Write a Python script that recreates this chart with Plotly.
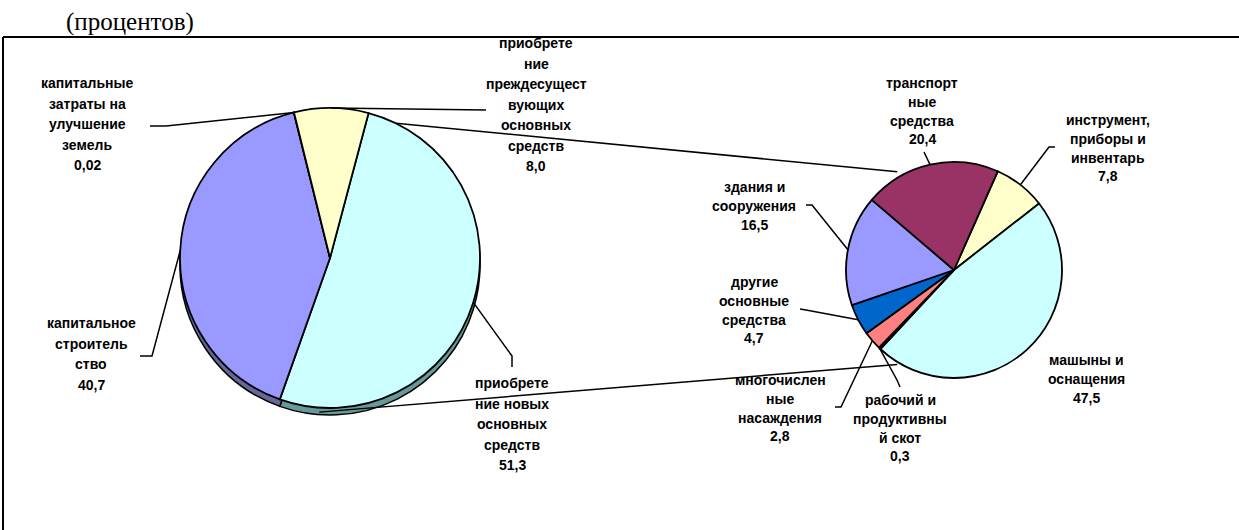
import math
import plotly.graph_objects as go

W, H = 1239, 530

# ---------------- data ----------------
main_labels = ["приобретение новых основных средств",
               "капитальное строительство",
               "капитальные затраты на улучшение земель",
               "приобретение преждесуществующих основных средств"]
main_values = [51.3, 40.7, 0.02, 8.0]
main_label_lines = [
    ["приобрете", "ние новых", "основных", "средств"],
    ["капитальное", "строитель", "ство"],
    ["капитальные", "затраты на", "улучшение", "земель"],
    ["приобрете", "ние", "преждесущест", "вующих", "основных", "средств"],
]

sub_labels = ["инструмент, приборы и инвентарь",
              "машыны и оснащения",
              "рабочий и продуктивный скот",
              "многочисленные насаждения",
              "другие основные средства",
              "здания и сооружения",
              "транспортные средства"]
sub_values = [7.8, 47.5, 0.3, 2.8, 4.7, 16.5, 20.4]
sub_label_lines = [
    ["инструмент,", "приборы и", "инвентарь"],
    ["машыны и", "оснащения"],
    ["рабочий и", "продуктивны", "й скот"],
    ["многочислен", "ные", "насаждения"],
    ["другие", "основные", "средства"],
    ["здания и", "сооружения"],
    ["транспорт", "ные", "средства"],
]

# ---------------- styles / layout ----------------
main_colors = ["#CCFFFF", "#9999FF", "#993366", "#FFFFCC"]
rim_colors = ["#669999", "#666699", "#663344", "#999966"]
sub_colors = ["#FFFFCC", "#CCFFFF", "#111111", "#FF8080", "#0066CC", "#9999FF", "#993366"]

L_C, L_R, L_ROT = (330, 258), 150, 14.9
R_C, R_R, R_ROT = (954, 270), 108, 23.9
RIM = 7

main_pos = [(512, 383), (91, 323), (87, 83), (536, 43)]
sub_pos = [(1108, 120), (1086, 360), (900, 400), (780, 380), (754, 282), (754, 187), (922, 83)]
MAIN_LS, SUB_LS = 20.5, 18.8
main_elbows = [[(512, 367), (512, 356)], [(140, 356), (152, 356)],
               [(150, 126), (166, 126)], [(486, 110)]]
sub_elbows = [[(1055, 147), (1049, 147)], None, [(900, 387), (897, 380)],
              [(835, 407), (841, 407)], [(800, 309), (806, 310)],
              [(806, 205), (812, 205)], [(924, 152)]]

FONT = "Liberation Sans, Arial, sans-serif"
FS = 14


def px(x):
    return x / W


def py(y):
    return 1 - y / H


def domain(c, r, dy=0):
    cx, cy = c
    return dict(x=[(cx - r) / W, (cx + r) / W],
                y=[1 - (cy + dy + r) / H, 1 - (cy + dy - r) / H])


def mids(values, rot):
    tot = sum(values)
    a = rot
    out = []
    for v in values:
        span = 360 * v / tot
        out.append(a + span / 2)
        a += span
    return out


def edge(c, r, ang, f=1.0):
    a = math.radians(ang)
    return (c[0] + r * f * math.sin(a), c[1] - r * f * math.cos(a))


def fmt(v):
    s = f"{v:.2f}" if v < 0.1 else f"{v:.1f}"
    return s.replace(".", ",")


fig = go.Figure()

pie_common = dict(sort=False, direction="clockwise", textinfo="none",
                  hoverinfo="label+value", showlegend=False)

# 3D rim of the main pie
fig.add_trace(go.Pie(labels=main_labels, values=main_values, rotation=L_ROT,
                     marker=dict(colors=rim_colors, line=dict(color="black", width=1.5)),
                     domain=domain(L_C, L_R, RIM), **pie_common))
fig.add_trace(go.Pie(labels=main_labels, values=main_values, rotation=L_ROT,
                     marker=dict(colors=main_colors, line=dict(color="black", width=1.8)),
                     domain=domain(L_C, L_R), **pie_common))
fig.add_trace(go.Pie(labels=sub_labels, values=sub_values, rotation=R_ROT,
                     marker=dict(colors=sub_colors, line=dict(color="black", width=1.8)),
                     domain=domain(R_C, R_R), **pie_common))

shapes = []
annotations = []


def path(points):
    d = "M " + " L ".join(f"{px(x):.5f},{py(y):.5f}" for x, y in points)
    return dict(type="path", path=d, xref="paper", yref="paper",
                line=dict(color="black", width=1.5))


def add_label(lines, value, pos, ls):
    cx, y0 = pos
    for i, t in enumerate(lines + [fmt(value)]):
        annotations.append(dict(text=t, x=px(cx), y=py(y0 + i * ls), xref="paper", yref="paper",
                                xanchor="center", yanchor="middle", showarrow=False,
                                font=dict(family=FONT, size=FS, color="black", weight="bold")))


mm = mids(main_values, L_ROT)
for i, v in enumerate(main_values):
    add_label(main_label_lines[i], v, main_pos[i], MAIN_LS)
    shapes.append(path(main_elbows[i] + [edge(L_C, L_R, mm[i])]))

sm = mids(sub_values, R_ROT)
for i, v in enumerate(sub_values):
    add_label(sub_label_lines[i], v, sub_pos[i], SUB_LS)
    if sub_elbows[i]:
        shapes.append(path(sub_elbows[i] + [edge(R_C, R_R, sm[i])]))

# connector lines between the two pies
shapes.append(path([edge(L_C, L_R, 26), edge(R_C, R_R, -30, 1.05)]))
shapes.append(path([edge(L_C, L_R, 184, 1.03), edge(R_C, R_R, 211, 1.02)]))

# chart frame (top and left edges visible)
shapes.append(dict(type="line", xref="paper", yref="paper", x0=px(3), x1=1.01,
                   y0=py(37), y1=py(37), line=dict(color="black", width=2)))
shapes.append(dict(type="line", xref="paper", yref="paper", x0=px(3), x1=px(3),
                   y0=py(37), y1=-0.01, line=dict(color="black", width=2)))

annotations.append(dict(text="(процентов)", x=px(130), y=py(22), xref="paper", yref="paper",
                        xanchor="center", yanchor="middle", showarrow=False,
                        font=dict(family="Liberation Serif, Times New Roman, serif", size=25,
                                  color="black")))

fig.update_layout(width=W, height=H, margin=dict(l=0, r=0, t=0, b=0),
                  paper_bgcolor="white", plot_bgcolor="white",
                  shapes=shapes, annotations=annotations)

fig.write_html("out.html", config={"displayModeBar": False},
               post_script="document.body.style.margin='0px';document.body.style.overflow='hidden';")
